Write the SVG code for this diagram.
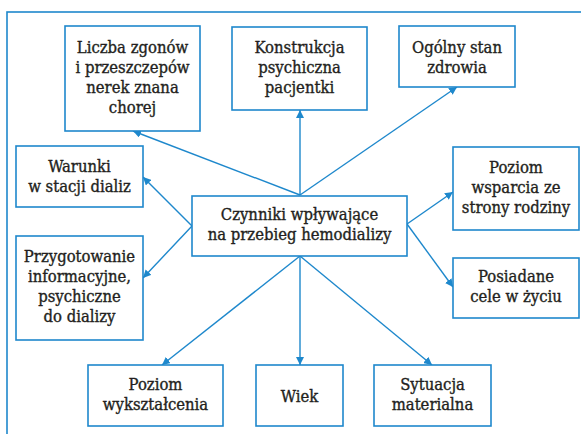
<svg xmlns="http://www.w3.org/2000/svg" width="581" height="434" viewBox="0 0 581 434">
<defs>
<marker id="arr" viewBox="0 0 10 10" refX="10" refY="5" markerWidth="8" markerHeight="8" markerUnits="userSpaceOnUse" orient="auto">
<path d="M0,0 L10,5 L0,10 z" fill="#1e88cc"/>
</marker>
</defs>
<style>
.box{fill:#fff;stroke:#1e88cc;stroke-width:1.6}
.frame{fill:#fff;stroke:#1e88cc;stroke-width:1.6}
.t{font-family:'DejaVu Serif Condensed','DejaVu Serif',serif;font-size:16.5px;fill:#231f20;stroke:#231f20;stroke-width:0.35;text-anchor:middle}
.c{stroke:#1e88cc;stroke-width:1.4;fill:none;marker-end:url(#arr)}
</style>
<rect class="frame" x="7" y="12" width="590" height="440"/>
<g id="connectors">
<line class="c" x1="300" y1="195" x2="133" y2="131"/>
<line class="c" x1="300" y1="195" x2="300" y2="110"/>
<line class="c" x1="300" y1="195" x2="457" y2="87"/>
<line class="c" x1="192" y1="226" x2="143" y2="177"/>
<line class="c" x1="192" y1="226" x2="143" y2="278"/>
<line class="c" x1="407" y1="224" x2="453" y2="192"/>
<line class="c" x1="407" y1="224" x2="453" y2="287"/>
<line class="c" x1="300" y1="256" x2="162" y2="365"/>
<line class="c" x1="300" y1="256" x2="300" y2="365"/>
<line class="c" x1="300" y1="256" x2="432" y2="365"/>
</g>
<g id="center">
<rect class="box" x="192" y="196" width="215" height="60"/>
<text class="t" x="299.5" y="220">Czynniki wpływające</text>
<text class="t" x="299.5" y="240">na przebieg hemodializy</text>
</g>
<g id="liczba">
<rect class="box" x="65" y="26" width="135" height="105"/>
<text class="t" x="132.5" y="53">Liczba zgonów</text>
<text class="t" x="132.5" y="73">i przeszczepów</text>
<text class="t" x="132.5" y="93">nerek znana</text>
<text class="t" x="132.5" y="113">chorej</text>
</g>
<g id="konstrukcja">
<rect class="box" x="232" y="27" width="135" height="83"/>
<text class="t" x="299.5" y="53">Konstrukcja</text>
<text class="t" x="299.5" y="73">psychiczna</text>
<text class="t" x="299.5" y="93">pacjentki</text>
</g>
<g id="ogolny">
<rect class="box" x="399" y="26" width="116" height="61"/>
<text class="t" x="457" y="53">Ogólny stan</text>
<text class="t" x="457" y="73">zdrowia</text>
</g>
<g id="warunki">
<rect class="box" x="16" y="146" width="127" height="61"/>
<text class="t" x="79.5" y="172">Warunki</text>
<text class="t" x="79.5" y="192">w stacji dializ</text>
</g>
<g id="przygotowanie">
<rect class="box" x="16" y="236" width="127" height="104"/>
<text class="t" x="79.5" y="262">Przygotowanie</text>
<text class="t" x="79.5" y="282">informacyjne,</text>
<text class="t" x="79.5" y="302">psychiczne</text>
<text class="t" x="79.5" y="322">do dializy</text>
</g>
<g id="wyksztalcenie">
<rect class="box" x="88" y="365" width="135" height="61"/>
<text class="t" x="155.5" y="390">Poziom</text>
<text class="t" x="155.5" y="410">wykształcenia</text>
</g>
<g id="wiek">
<rect class="box" x="256" y="365" width="87" height="61"/>
<text class="t" x="299.5" y="402">Wiek</text>
</g>
<g id="sytuacja">
<rect class="box" x="374" y="365" width="117" height="61"/>
<text class="t" x="432.5" y="390">Sytuacja</text>
<text class="t" x="432.5" y="410">materialna</text>
</g>
<g id="wsparcie">
<rect class="box" x="453" y="147" width="126" height="83"/>
<text class="t" x="516" y="173">Poziom</text>
<text class="t" x="516" y="193">wsparcia ze</text>
<text class="t" x="516" y="213">strony rodziny</text>
</g>
<g id="cele">
<rect class="box" x="453" y="258" width="126" height="60"/>
<text class="t" x="516" y="282">Posiadane</text>
<text class="t" x="516" y="302">cele w życiu</text>
</g>
</svg>
